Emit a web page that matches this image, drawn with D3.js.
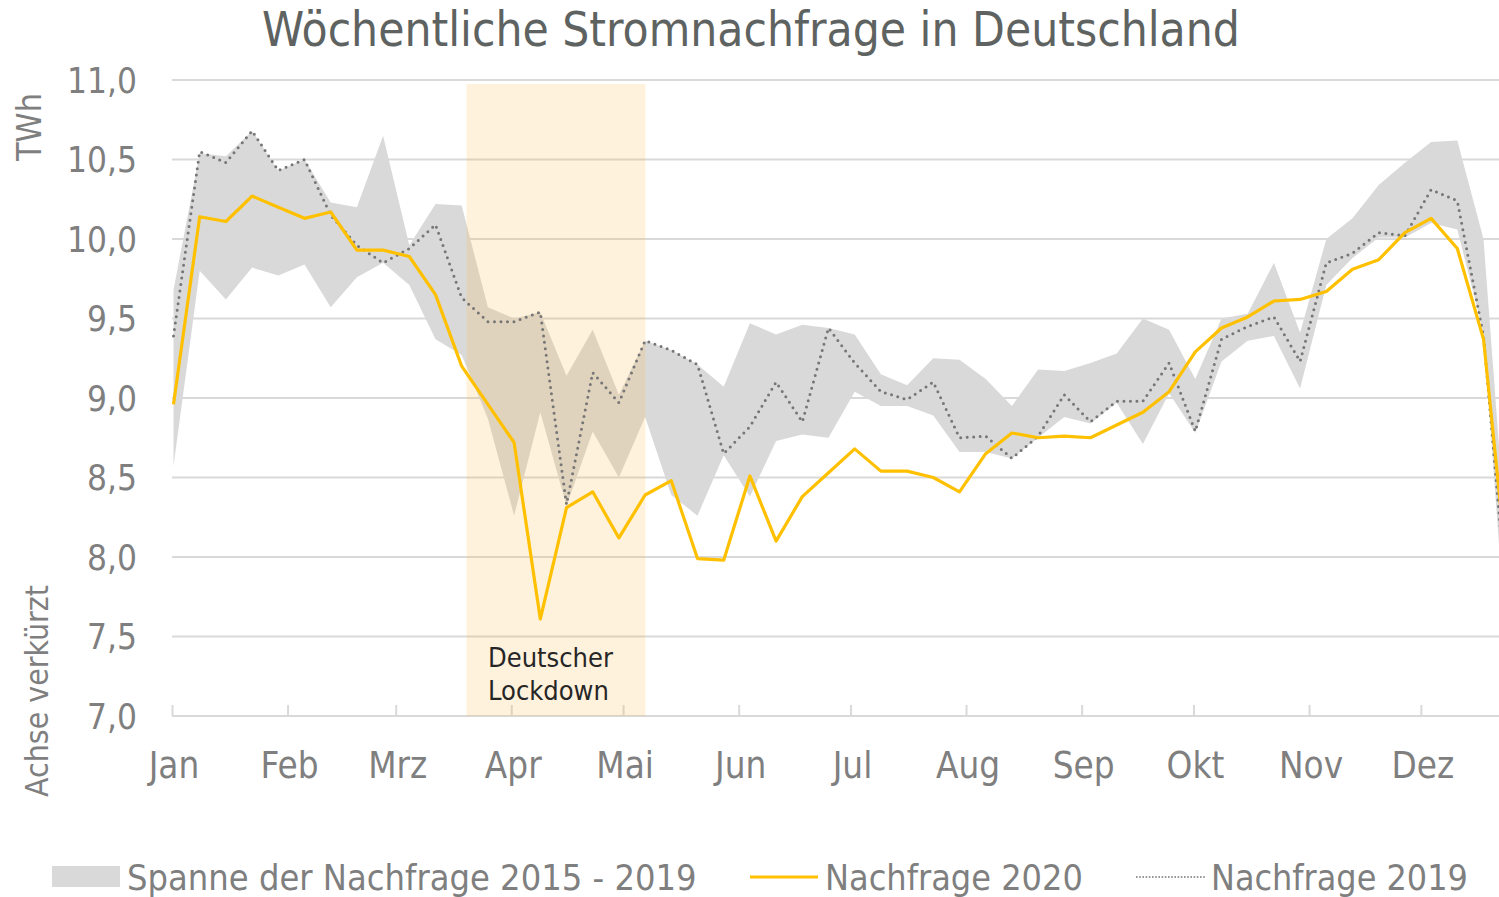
<!DOCTYPE html>
<html><head><meta charset="utf-8">
<script src="https://cdn.jsdelivr.net/npm/d3@7"></script>
<style>
body{margin:0;background:#fff;}
svg{display:block;}
text{font-family:"DejaVu Sans Condensed","DejaVu Sans",sans-serif;}
</style>
</head><body>
<svg id="chart" width="1499" height="897"></svg>
<script>
// ---- data ----
const titleText = "Wöchentliche Stromnachfrage in Deutschland";
const demand2020 = [8.96,10.14,10.11,10.27,10.20,10.13,10.17,9.93,9.93,9.89,9.65,9.20,8.96,8.72,7.61,8.31,8.41,8.12,8.39,8.48,7.99,7.98,8.51,8.10,8.38,8.53,8.68,8.54,8.54,8.50,8.41,8.65,8.78,8.75,8.76,8.75,8.83,8.91,9.04,9.29,9.44,9.51,9.61,9.62,9.67,9.81,9.87,10.04,10.13,9.94,9.37,7.76];
const demand2019 = [9.39,10.55,10.48,10.68,10.43,10.50,10.15,9.96,9.85,9.94,10.09,9.63,9.48,9.48,9.54,8.33,9.16,8.97,9.36,9.30,9.21,8.65,8.82,9.10,8.85,9.44,9.22,9.04,8.99,9.10,8.75,8.76,8.62,8.76,9.02,8.85,8.98,8.98,9.22,8.79,9.37,9.45,9.51,9.23,9.85,9.91,10.04,10.02,10.31,10.24,9.39,7.51];
const rangeHigh = [9.68,10.54,10.52,10.68,10.43,10.50,10.23,10.20,10.65,9.96,10.22,10.21,9.57,9.50,9.54,9.14,9.43,9.02,9.36,9.30,9.21,9.07,9.47,9.40,9.46,9.44,9.40,9.15,9.08,9.25,9.24,9.12,8.95,9.18,9.17,9.22,9.28,9.50,9.43,9.12,9.50,9.53,9.85,9.41,10.00,10.13,10.34,10.48,10.61,10.62,10.00,7.80];
const rangeLow = [8.57,9.80,9.62,9.82,9.77,9.84,9.57,9.76,9.85,9.71,9.37,9.27,8.87,8.26,8.91,8.32,8.79,8.50,8.88,8.39,8.26,8.64,8.38,8.73,8.77,8.75,9.04,8.95,8.95,8.89,8.66,8.66,8.62,8.75,8.88,8.84,8.97,8.71,9.03,8.78,9.23,9.36,9.39,9.06,9.71,9.88,10.01,10.01,10.10,10.06,9.41,7.16];
const monthLabels = ["Jan","Feb","Mrz","Apr","Mai","Jun","Jul","Aug","Sep","Okt","Nov","Dez"];
const yTicks = [7.0,7.5,8.0,8.5,9.0,9.5,10.0,10.5,11.0];
const lockdownStart = "2020-03-20";
const lockdownEnd = "2020-05-07";
const lockdownTop = 10.975;
const lockdownLabel = ["Deutscher","Lockdown"];
const yTitle = "TWh";
const yNote = "Achse verkürzt";
const legendLabels = ["Spanne der Nachfrage 2015 - 2019","Nachfrage 2020","Nachfrage 2019"];

// ---- setup ----
const svg = d3.select("#chart");
const W = 1499, H = 897;
const yearStart = new Date(Date.UTC(2020,0,1)), yearEnd = new Date(Date.UTC(2021,0,1));
// calendar scale (month ticks, lockdown period)
const x = d3.scaleUtc().domain([yearStart, yearEnd]).range([172, 172 + 366*3.728]);
// week-index scale (weekly data points)
const xw = d3.scaleLinear().domain([0, 51]).range([173.5, 173.5 + 51*26.2]);
const y = d3.scaleLinear().domain([7, 11]).range([716, 80]);
const fmt = d3.formatLocale({decimal:",", thousands:".", grouping:[3], currency:["","€"]}).format(".1f");

const GRID = "#d9d9d9", AX = "#7f7f7f";

function fitWidth(sel, w){
  const cur = sel.node().getComputedTextLength();
  const fs = parseFloat(sel.attr("font-size"));
  return fs * w / cur;
}

svg.append("defs").append("clipPath").attr("id","plotclip")
  .append("rect").attr("x",160).attr("y",0).attr("width",W-160).attr("height",H);

// gridlines
svg.append("g").selectAll("line").data(yTicks.filter(d => d > 7)).join("line")
  .attr("x1", 172).attr("x2", W).attr("y1", d => y(d)).attr("y2", d => y(d))
  .attr("stroke", GRID).attr("stroke-width", 2);

// axis line + ticks
const xAxis = d3.axisBottom(x).tickValues(d3.utcMonths(yearStart, yearEnd)).tickSize(0).tickFormat("");
const axisG = svg.append("g").attr("transform", `translate(0,${y(7)})`).call(xAxis);
axisG.select(".domain").remove();
axisG.append("line").attr("x1",172).attr("x2",W).attr("stroke",GRID).attr("stroke-width",2);
axisG.selectAll(".tick").append("line").attr("y1",0).attr("y2",-11).attr("stroke",GRID).attr("stroke-width",2);

const plot = svg.append("g").attr("clip-path","url(#plotclip)");

// range band
const area = d3.area().x((d,i) => xw(i)).y0((d,i) => y(rangeLow[i])).y1((d,i) => y(rangeHigh[i]));
plot.append("path").datum(rangeHigh).attr("d", area).attr("fill", "#d9d9d9");

// lockdown shading
const ls = x(new Date(lockdownStart)), le = x(new Date(lockdownEnd));
plot.append("rect").attr("x", ls).attr("width", le - ls)
  .attr("y", y(lockdownTop)).attr("height", y(7) - y(lockdownTop))
  .attr("fill", "rgb(255,190,80)").attr("fill-opacity", 0.2);

// lines
const line = d3.line().x((d,i) => xw(i)).y(d => y(d));
plot.append("path").datum(demand2019).attr("d", line).attr("fill","none")
  .attr("stroke","#767676").attr("stroke-width",3).attr("stroke-linecap","round")
  .attr("stroke-dasharray","0 6.5");
plot.append("path").datum(demand2020).attr("d", line).attr("fill","none")
  .attr("stroke","#ffc000").attr("stroke-width",3.2).attr("stroke-linejoin","round");

// lockdown label
const lt = svg.append("text").attr("x", 488).attr("y", 667).attr("font-size", 27).attr("fill","#262626");
lt.selectAll("tspan").data(lockdownLabel).join("tspan").attr("x",488).attr("dy",(d,i)=> i ? 33 : 0).text(d=>d);

// y tick labels
const yl = svg.append("g").selectAll("text").data(yTicks).join("text")
  .attr("x", 137).attr("y", d => y(d)).attr("dy","0.36em").attr("text-anchor","end")
  .attr("font-size", 38).attr("fill", AX).text(d => fmt(d));
const yfs = fitWidth(yl.filter(d => d === 11), 70);
yl.attr("font-size", yfs);

// month labels
const ml = svg.append("g").selectAll("text").data(d3.utcMonths(yearStart, yearEnd)).join("text")
  .attr("x", d => x(d) + 2).attr("y", 778).attr("text-anchor","middle")
  .attr("font-size", 36).attr("fill", AX).text((d,i) => monthLabels[i]);
const mfs = fitWidth(ml.filter((d,i) => i === 1), 58);
ml.attr("font-size", mfs);

// title
const tt = svg.append("text").attr("x", 751).attr("y", 46).attr("text-anchor","middle")
  .attr("font-size", 44).attr("fill", "#5e6361").text(titleText);
tt.attr("font-size", fitWidth(tt, 978));

// axis titles
const yt = svg.append("text").attr("transform","translate(41,127) rotate(-90)").attr("text-anchor","middle")
  .attr("font-size", 32).attr("fill", AX).text(yTitle);
yt.attr("font-size", fitWidth(yt, 68));
const yn = svg.append("text").attr("transform","translate(48,691) rotate(-90)").attr("text-anchor","middle")
  .attr("font-size", 30).attr("fill", AX).text(yNote);
yn.attr("font-size", fitWidth(yn, 212));

// legend
const lg = svg.append("g");
lg.append("rect").attr("x",52).attr("y",866).attr("width",68).attr("height",21).attr("fill","#d9d9d9");
lg.append("line").attr("x1",750).attr("x2",818).attr("y1",877).attr("y2",877).attr("stroke","#ffc000").attr("stroke-width",3);
lg.append("line").attr("x1",1136).attr("x2",1205).attr("y1",877).attr("y2",877).attr("stroke","#767676")
  .attr("stroke-width",1.6).attr("stroke-dasharray","1.6 1.6");
const legX = [127, 825, 1211], legW = [570, 258, 257];
legendLabels.forEach((t, i) => {
  const e = lg.append("text").attr("x", legX[i]).attr("y", 890).attr("font-size", 34).attr("fill", AX).text(t);
  e.attr("font-size", fitWidth(e, legW[i]));
});
</script>
</body></html>
